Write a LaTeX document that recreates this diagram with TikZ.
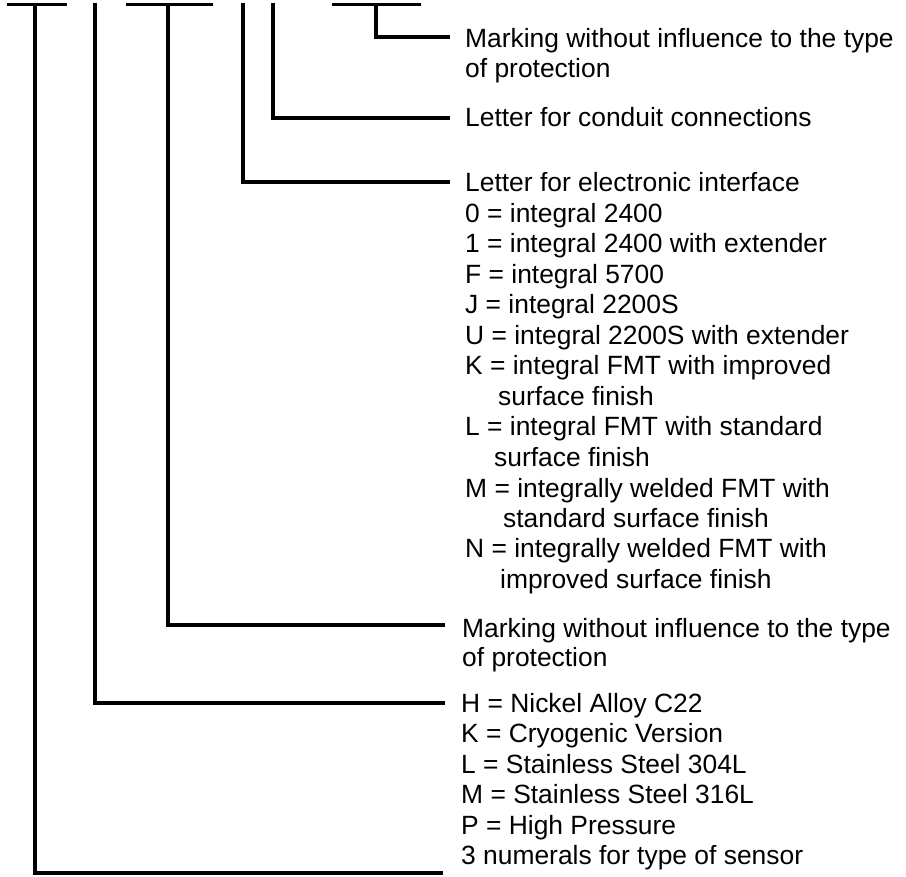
\documentclass[tikz,border=0pt]{standalone}
\usepackage{fontspec}
\setmainfont{Liberation Sans}
\begin{document}
\begin{tikzpicture}[x=1pt,y=-1pt,
  conn/.style={line width=3.2pt,line join=miter},
  lbl/.style={anchor=base west,inner sep=0pt,font=\fontsize{26.4}{30.5}\selectfont}]
\useasboundingbox (0,0) rectangle (906,877);
% bars and stems (top ends)
\coordinate (b1l) at (7,4.7);   \coordinate (b1r) at (67,4.7);  \coordinate (s1) at (35,4.7);
\coordinate (s2) at (95,3);
\coordinate (b3l) at (126,4.7); \coordinate (b3r) at (213,4.7); \coordinate (s3) at (168,4.7);
\coordinate (s4) at (243,3);
\coordinate (s5) at (273,3);
\coordinate (b6l) at (332,4.7); \coordinate (b6r) at (421,4.7); \coordinate (s6) at (376,4.7);
% connector ends
\coordinate (e6) at (450,37);
\coordinate (e5) at (450,118);
\coordinate (e4) at (450,182);
\coordinate (e3) at (445,625);
\coordinate (e2) at (445,703);
\coordinate (e1) at (443,873);
% texts
\node[lbl] (t6a) at (465,48) {Marking without influence to the type};
\node[lbl] (t6b) at (465,78) {of protection};
\node[lbl] (t5)  at (465,127) {Letter for conduit connections};
\node[lbl] (t4a) at (465,192) {Letter for electronic interface};
\node[lbl] (t4b) at (465,222.5) {0 = integral 2400};
\node[lbl] (t4c) at (465,253) {1 = integral 2400 with extender};
\node[lbl] (t4d) at (465,283.5) {F = integral 5700};
\node[lbl] (t4e) at (465,314) {J = integral 2200S};
\node[lbl] (t4f) at (465,344.5) {U = integral 2200S with extender};
\node[lbl] (t4g) at (465,375) {K = integral FMT with improved};
\node[lbl] (t4h) at (498,405.5) {surface finish};
\node[lbl] (t4i) at (465,436) {L = integral FMT with standard};
\node[lbl] (t4j) at (494,466.5) {surface finish};
\node[lbl] (t4k) at (465,497) {M = integrally welded FMT with};
\node[lbl] (t4l) at (503,527.5) {standard surface finish};
\node[lbl] (t4m) at (465,558) {N = integrally welded FMT with};
\node[lbl] (t4n) at (500,588.5) {improved surface finish};
\node[lbl] (t3a) at (462,637) {Marking without influence to the type};
\node[lbl] (t3b) at (462,666) {of protection};
\node[lbl] (t2a) at (461,712) {H = Nickel Alloy C22};
\node[lbl] (t2b) at (461,742.5) {K = Cryogenic Version};
\node[lbl] (t2c) at (461,773) {L = Stainless Steel 304L};
\node[lbl] (t2d) at (461,803.5) {M = Stainless Steel 316L};
\node[lbl] (t2e) at (461,834) {P = High Pressure};
\node[lbl] (t1)  at (461,864.5) {3 numerals for type of sensor};
% connectors
\draw[conn] (b1l) -- (b1r);
\draw[conn] (s1) |- (e1);
\draw[conn] (s2) |- (e2);
\draw[conn] (b3l) -- (b3r);
\draw[conn] (s3) |- (e3);
\draw[conn] (s4) |- (e4);
\draw[conn] (s5) |- (e5);
\draw[conn] (b6l) -- (b6r);
\draw[conn] (s6) |- (e6);
\end{tikzpicture}
\end{document}
